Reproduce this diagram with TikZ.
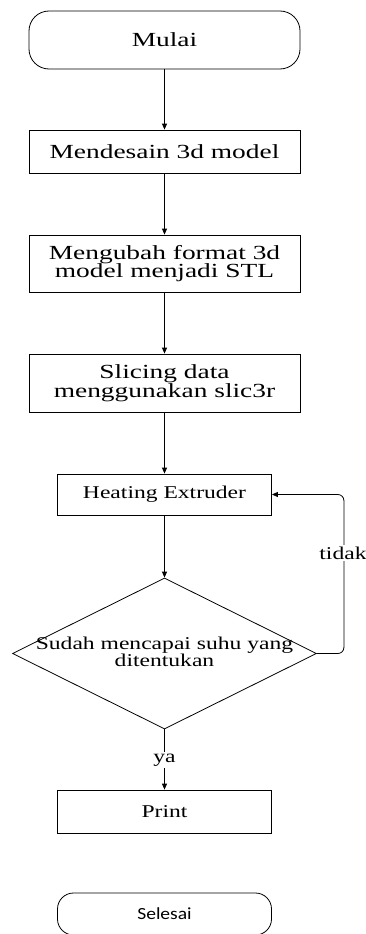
\documentclass[tikz,border=0pt]{standalone}
\usepackage{fontspec}
\setmainfont[FakeStretch=1.37]{Liberation Serif}
\newfontfamily\smallserif[FakeStretch=1.31]{Liberation Serif}
\newfontfamily\sansfnt[FakeStretch=1.15]{Carlito}
\usetikzlibrary{arrows.meta,shapes.geometric}
\begin{document}
\begin{tikzpicture}[x=1pt,y=-1pt,
  box/.style={draw, line width=0.8pt, inner sep=0pt, align=center},
  bigtxt/.style={font=\fontsize{20}{18.5}\selectfont},
  smalltxt/.style={font=\smallserif\fontsize{18}{17}\selectfont},
  arr/.style={draw, line width=0.8pt, -{Triangle[length=6pt,width=5pt]}},
  lbl/.style={fill=white, inner sep=1.5pt, smalltxt}]
\useasboundingbox (0,0) rectangle (366,934);
\node[box,bigtxt,rounded corners=20pt,minimum width=271pt,minimum height=58pt] (start) at (164.5,40) {Mulai};
\node[box,bigtxt,minimum width=271pt,minimum height=43pt] (design) at (164.5,151.5) {Mendesain 3d model};
\node[box,bigtxt,minimum width=271pt,minimum height=57pt] (convert) at (164.5,263.5) {Mengubah format 3d\\model menjadi STL};
\node[box,bigtxt,minimum width=271pt,minimum height=58pt] (slice) at (164.5,383) {Slicing data\\menggunakan slic3r};
\node[box,smalltxt,minimum width=214pt,minimum height=41pt] (heat) at (164.5,494.5) {Heating Extruder};
\node[draw, line width=0.8pt, diamond, minimum width=304pt, minimum height=151pt, inner sep=0pt] (dec) at (164.5,653.5) {};
\node[smalltxt, align=center, inner sep=0pt] (dectext) at (164.5,652) {Sudah mencapai suhu yang\\ditentukan};
\node[box,smalltxt,minimum width=214pt,minimum height=43pt] (print) at (164.5,811.5) {Print};
\node[box,rounded corners=16pt,minimum width=214pt,minimum height=42pt,font=\sansfnt\fontsize{17}{17}\selectfont] (end) at (164.5,914) {Selesai};
\draw[arr] (start) -- (design);
\draw[arr] (design) -- (convert);
\draw[arr] (convert) -- (slice);
\draw[arr] (slice) -- (heat);
\draw[arr] (heat) -- (dec);
\draw[arr, rounded corners=6pt] (dec.east) -- ++(27,0) |- (heat.east);
\node[lbl] (tidak) at (343,553) {tidak};
\draw[arr] (dec.south) -- (print.north);
\node[lbl] (ya) at (164.5,760) {ya};
\end{tikzpicture}
\end{document}
